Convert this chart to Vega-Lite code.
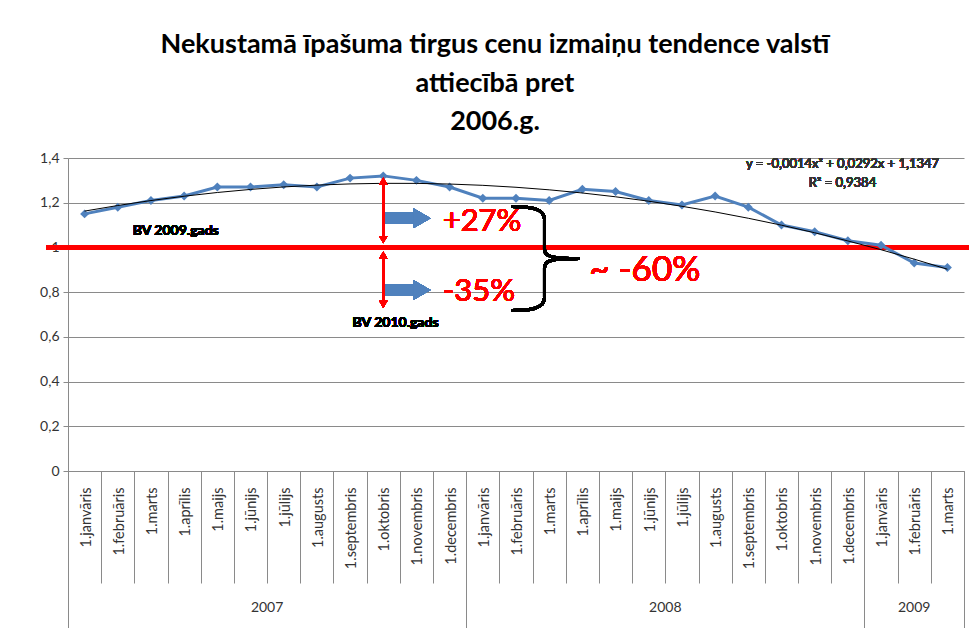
{
  "$schema": "https://vega.github.io/schema/vega-lite/v6.json",
  "width": 896,
  "height": 313,
  "autosize": {"type": "none"},
  "padding": {"left": 68, "top": 158, "right": 5, "bottom": 157},
  "background": "white",
  "config": {"view": {"stroke": null}, "font": "Lato"},
  "title": {
    "text": ["Nekustamā īpašuma tirgus cenu izmaiņu tendence valstī", "attiecībā pret", "2006.g."],
    "font": "Lato",
    "fontSize": 27,
    "fontWeight": "bold",
    "lineHeight": 38.5,
    "anchor": "middle",
    "dx": -21,
    "offset": 15,
    "color": "black"
  },
  "datasets": {
    "prices": [
      {"idx": 1, "year": "2007", "month": "1.janvāris", "value": 1.15, "trend": 1.1625},
      {"idx": 2, "year": "2007", "month": "1.februāris", "value": 1.18, "trend": 1.1875},
      {"idx": 3, "year": "2007", "month": "1.marts", "value": 1.21, "trend": 1.2097},
      {"idx": 4, "year": "2007", "month": "1.aprīlis", "value": 1.23, "trend": 1.2291},
      {"idx": 5, "year": "2007", "month": "1.maijs", "value": 1.27, "trend": 1.2457},
      {"idx": 6, "year": "2007", "month": "1.jūnijs", "value": 1.27, "trend": 1.2595},
      {"idx": 7, "year": "2007", "month": "1.jūlijs", "value": 1.28, "trend": 1.2705},
      {"idx": 8, "year": "2007", "month": "1.augusts", "value": 1.27, "trend": 1.2787},
      {"idx": 9, "year": "2007", "month": "1.septembris", "value": 1.31, "trend": 1.2841},
      {"idx": 10, "year": "2007", "month": "1.oktobris", "value": 1.32, "trend": 1.2867},
      {"idx": 11, "year": "2007", "month": "1.novembris", "value": 1.30, "trend": 1.2865},
      {"idx": 12, "year": "2007", "month": "1.decembris", "value": 1.27, "trend": 1.2835},
      {"idx": 13, "year": "2008", "month": "1.janvāris", "value": 1.22, "trend": 1.2777},
      {"idx": 14, "year": "2008", "month": "1.februāris", "value": 1.22, "trend": 1.2691},
      {"idx": 15, "year": "2008", "month": "1.marts", "value": 1.21, "trend": 1.2577},
      {"idx": 16, "year": "2008", "month": "1.aprīlis", "value": 1.26, "trend": 1.2435},
      {"idx": 17, "year": "2008", "month": "1.maijs", "value": 1.25, "trend": 1.2265},
      {"idx": 18, "year": "2008", "month": "1.jūnijs", "value": 1.21, "trend": 1.2067},
      {"idx": 19, "year": "2008", "month": "1.jūlijs", "value": 1.19, "trend": 1.1841},
      {"idx": 20, "year": "2008", "month": "1.augusts", "value": 1.23, "trend": 1.1587},
      {"idx": 21, "year": "2008", "month": "1.septembris", "value": 1.18, "trend": 1.1305},
      {"idx": 22, "year": "2008", "month": "1.oktobris", "value": 1.10, "trend": 1.0995},
      {"idx": 23, "year": "2008", "month": "1.novembris", "value": 1.07, "trend": 1.0657},
      {"idx": 24, "year": "2008", "month": "1.decembris", "value": 1.03, "trend": 1.0291},
      {"idx": 25, "year": "2009", "month": "1.janvāris", "value": 1.01, "trend": 0.9897},
      {"idx": 26, "year": "2009", "month": "1.februāris", "value": 0.93, "trend": 0.9475},
      {"idx": 27, "year": "2009", "month": "1.marts", "value": 0.91, "trend": 0.9025}
    ]
  },
  "data": {"name": "prices"},
  "layer": [
    {
      "layer": [
        {
          "mark": {"type": "rule", "color": "#FF0000", "strokeWidth": 4},
          "encoding": {
            "x": {"datum": -0.145, "type": "quantitative"},
            "x2": {"datum": 27.66},
            "y": {"datum": 1, "type": "quantitative"}
          }
        },
        {
          "mark": {"type": "line", "color": "#4F81BD", "strokeWidth": 3,
                   "point": {"shape": "diamond", "size": 80, "filled": true, "color": "#4F81BD", "opacity": 1}},
          "encoding": {
            "x": {
              "field": "idx", "type": "quantitative",
              "scale": {"domain": [0.5, 27.5], "nice": false, "zero": false},
              "axis": {
                "title": null,
                "tickCount": 100,
                "values": [0.5, 1.5, 2.5, 3.5, 4.5, 5.5, 6.5, 7.5, 8.5, 9.5, 10.5, 11.5, 12.5, 13.5, 14.5, 15.5, 16.5, 17.5, 18.5, 19.5, 20.5, 21.5, 22.5, 23.5, 24.5, 25.5, 26.5, 27.5],
                "labelExpr": "datum.value < 27 ? ['1.janvāris','1.februāris','1.marts','1.aprīlis','1.maijs','1.jūnijs','1.jūlijs','1.augusts','1.septembris','1.oktobris','1.novembris','1.decembris'][floor(datum.value) % 12] : ''",
                "labelAngle": 270,
                "labelAlign": "right",
                "labelBaseline": "middle",
                "labelOffset": 18,
                "labelPadding": -96,
                "labelFont": "Lato",
                "labelFontSize": 14.5,
                "labelColor": "#333333",
                "labelFlush": false,
                "labelOverlap": false,
                "labelBound": false,
                "tickSize": 112,
                "tickColor": "#8a8a8a",
                "domainColor": "#8a8a8a",
                "grid": false
              }
            },
            "y": {
              "field": "value", "type": "quantitative",
              "scale": {"domain": [0, 1.4], "nice": false, "zero": false},
              "axis": {
                "title": null,
                "tickCount": 100,
                "values": [0, 0.2, 0.4, 0.6, 0.8, 1, 1.2, 1.4],
                "labelExpr": "replace(format(datum.value, '.1~f'), '.', ',')",
                "labelFont": "Lato",
                "labelFontSize": 14,
                "labelColor": "#333333",
                "labelPadding": 4,
                "tickSize": 5,
                "tickColor": "#8a8a8a",
                "domainColor": "#8a8a8a",
                "gridColor": "#8a8a8a",
                "grid": true
              }
            }
          }
        },
        {
          "mark": {"type": "line", "color": "black", "strokeWidth": 1},
          "encoding": {
            "x": {"field": "idx", "type": "quantitative"},
            "y": {"field": "trend", "type": "quantitative"}
          }
        },
        {
          "mark": {"type": "rule", "color": "#FF0000", "strokeWidth": 2},
          "encoding": {"x": {"datum": 10, "type": "quantitative"}, "y": {"datum": 1.3, "type": "quantitative"}, "y2": {"datum": 1.03}}
        },
        {
          "mark": {"type": "rule", "color": "#FF0000", "strokeWidth": 2},
          "encoding": {"x": {"datum": 10, "type": "quantitative"}, "y": {"datum": 0.97, "type": "quantitative"}, "y2": {"datum": 0.74}}
        },
        {
          "mark": {"type": "point", "shape": "triangle-up", "filled": true, "color": "#FF0000", "size": 70, "opacity": 1},
          "encoding": {"x": {"datum": 10, "type": "quantitative"}, "y": {"datum": 1.297, "type": "quantitative"}}
        },
        {
          "mark": {"type": "point", "shape": "triangle-down", "filled": true, "color": "#FF0000", "size": 70, "opacity": 1},
          "encoding": {"x": {"datum": 10, "type": "quantitative"}, "y": {"datum": 1.035, "type": "quantitative"}}
        },
        {
          "mark": {"type": "point", "shape": "triangle-up", "filled": true, "color": "#FF0000", "size": 70, "opacity": 1},
          "encoding": {"x": {"datum": 10, "type": "quantitative"}, "y": {"datum": 0.966, "type": "quantitative"}}
        },
        {
          "mark": {"type": "point", "shape": "triangle-down", "filled": true, "color": "#FF0000", "size": 70, "opacity": 1},
          "encoding": {"x": {"datum": 10, "type": "quantitative"}, "y": {"datum": 0.745, "type": "quantitative"}}
        },
        {
          "mark": {"type": "rule", "color": "#4F81BD", "strokeWidth": 11},
          "encoding": {"x": {"datum": 10.07, "type": "quantitative"}, "x2": {"datum": 11.0}, "y": {"datum": 1.131, "type": "quantitative"}}
        },
        {
          "mark": {"type": "point", "shape": "triangle-right", "filled": true, "color": "#4F81BD", "size": 380, "opacity": 1},
          "encoding": {"x": {"datum": 11.17, "type": "quantitative"}, "y": {"datum": 1.131, "type": "quantitative"}}
        },
        {
          "mark": {"type": "rule", "color": "#4F81BD", "strokeWidth": 11},
          "encoding": {"x": {"datum": 10.07, "type": "quantitative"}, "x2": {"datum": 11.0}, "y": {"datum": 0.81, "type": "quantitative"}}
        },
        {
          "mark": {"type": "point", "shape": "triangle-right", "filled": true, "color": "#4F81BD", "size": 380, "opacity": 1},
          "encoding": {"x": {"datum": 11.17, "type": "quantitative"}, "y": {"datum": 0.81, "type": "quantitative"}}
        },
        {
          "mark": {"type": "text", "text": "+27%", "align": "left", "baseline": "middle", "fontSize": 31, "color": "#FF0000", "font": "Lato"},
          "encoding": {"x": {"datum": 11.79, "type": "quantitative"}, "y": {"datum": 1.114, "type": "quantitative"}}
        },
        {
          "mark": {"type": "text", "text": "-35%", "align": "left", "baseline": "middle", "fontSize": 31, "color": "#FF0000", "font": "Lato"},
          "encoding": {"x": {"datum": 11.79, "type": "quantitative"}, "y": {"datum": 0.80, "type": "quantitative"}}
        },
        {
          "mark": {"type": "text", "text": "~ -60%", "align": "left", "baseline": "middle", "fontSize": 35, "color": "#FF0000", "font": "Lato"},
          "encoding": {"x": {"datum": 16.21, "type": "quantitative"}, "y": {"datum": 0.899, "type": "quantitative"}}
        },
        {
          "mark": {"type": "point", "shape": "M-0.65,-1 C-0.25,-1 -0.02,-0.95 -0.02,-0.75 L-0.02,-0.18 C-0.02,-0.04 0.1,0 0.65,0 M0.65,0 C0.1,0 -0.02,0.04 -0.02,0.18 L-0.02,0.75 C-0.02,0.95 -0.25,1 -0.65,1",
                   "filled": false, "color": "black", "strokeWidth": 3, "size": 10816, "opacity": 1},
          "encoding": {"x": {"datum": 14.89, "type": "quantitative"}, "y": {"datum": 0.95, "type": "quantitative"}}
        },
        {
          "mark": {"type": "text", "text": "BV 2009.gads", "align": "left", "baseline": "middle", "fontSize": 14, "fontWeight": "bold", "color": "black", "font": "Lato"},
          "encoding": {"x": {"datum": 2.45, "type": "quantitative"}, "y": {"datum": 1.073, "type": "quantitative"}}
        },
        {
          "mark": {"type": "text", "text": "BV 2010.gads", "align": "center", "baseline": "middle", "fontSize": 14, "fontWeight": "bold", "color": "black", "font": "Lato"},
          "encoding": {"x": {"datum": 10.37, "type": "quantitative"}, "y": {"datum": 0.662, "type": "quantitative"}}
        },
        {
          "mark": {"type": "text", "text": "y = -0,0014x² + 0,0292x + 1,1347", "align": "center", "baseline": "middle", "fontSize": 13, "color": "#333333", "font": "Lato"},
          "encoding": {"x": {"datum": 23.84, "type": "quantitative"}, "y": {"datum": 1.373, "type": "quantitative"}}
        },
        {
          "mark": {"type": "text", "text": "R² = 0,9384", "align": "center", "baseline": "middle", "fontSize": 13, "color": "#333333", "font": "Lato"},
          "encoding": {"x": {"datum": 23.84, "type": "quantitative"}, "y": {"datum": 1.288, "type": "quantitative"}}
        }
      ]
    },
    {
      "transform": [{"aggregate": [{"op": "mean", "field": "idx", "as": "mid"}], "groupby": ["year"]}],
      "mark": {"type": "text", "fontSize": 14, "color": "#333333", "baseline": "middle", "align": "center", "font": "Lato"},
      "encoding": {
        "x": {
          "field": "mid", "type": "quantitative",
          "axis": {"orient": "bottom", "title": null, "tickCount": 100, "values": [0.5, 12.5, 24.5, 27.5], "labels": false, "domain": false, "grid": false, "ticks": true, "tickSize": 157, "tickColor": "#8a8a8a"}
        },
        "y": {"datum": -0.613, "type": "quantitative"},
        "text": {"field": "year", "type": "nominal"}
      }
    }
  ],
  "resolve": {"axis": {"x": "independent"}}
}
